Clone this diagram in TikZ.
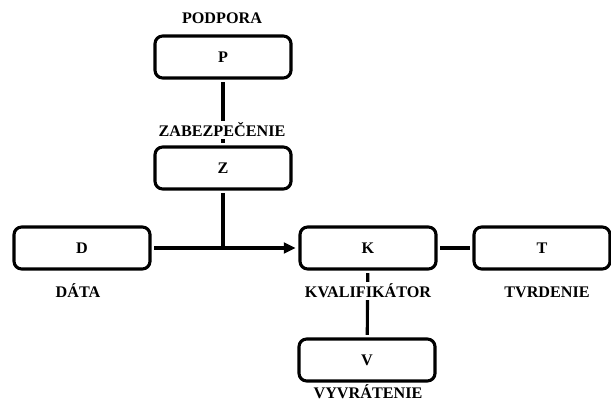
\documentclass[tikz,border=0pt]{standalone}
\usepackage{fontspec}
\setmainfont{Liberation Serif}
\usepackage{tikz}
\usetikzlibrary{arrows.meta,positioning,calc}
\definecolor{ink}{HTML}{000000}

\begin{document}
\begin{tikzpicture}[
  x=0.025cm, y=-0.025cm,
  every node/.style={font=\bfseries\fontsize{11.5}{13}\selectfont, text=ink},
  part/.style={draw=ink, line width=2.2pt, rounded corners=5.5pt, minimum width=3.4cm, minimum height=1.05cm, inner sep=0pt, outer sep=3pt},
  lbl/.style={fill=white, inner sep=1.5pt},
  link/.style={line width=2.2pt, color=ink},
  arrow/.style={link, -{Triangle[length=8.5pt, width=7.5pt]}}
]
\useasboundingbox (0,0) rectangle (611,401);

% --- boxes
\node[part] (p) at (223,57)  {P};
\node[part] (z) at (223,168) {Z};
\node[part] (d) at (82,248)  {D};
\node[part] (k) at (368,248) {K};
\node[part] (t) at (542,248) {T};
\node[part] (v) at (367,360) {V};

% --- connectors
\draw[link] (p) -- (z);
\draw[arrow] (d) -- (k);
\draw[link] (z.south) -- (z.south |- d.east);
\draw[link] (k) -- (t);
\draw[link] (k) -- (v);

% --- captions
\node[lbl] (pl) at (222,18)  {PODPORA};
\node[lbl] (zl) at (222,130) {ZABEZPEČENIE};
\node[lbl] (dl) at (78,291)  {DÁTA};
\node[lbl] (kl) at (368,291) {KVALIFIKÁTOR};
\node[lbl] (tl) at (547,292) {TVRDENIE};
\node[lbl] (vl) at (368,392) {VYVRÁTENIE};
\end{tikzpicture}
\end{document}
